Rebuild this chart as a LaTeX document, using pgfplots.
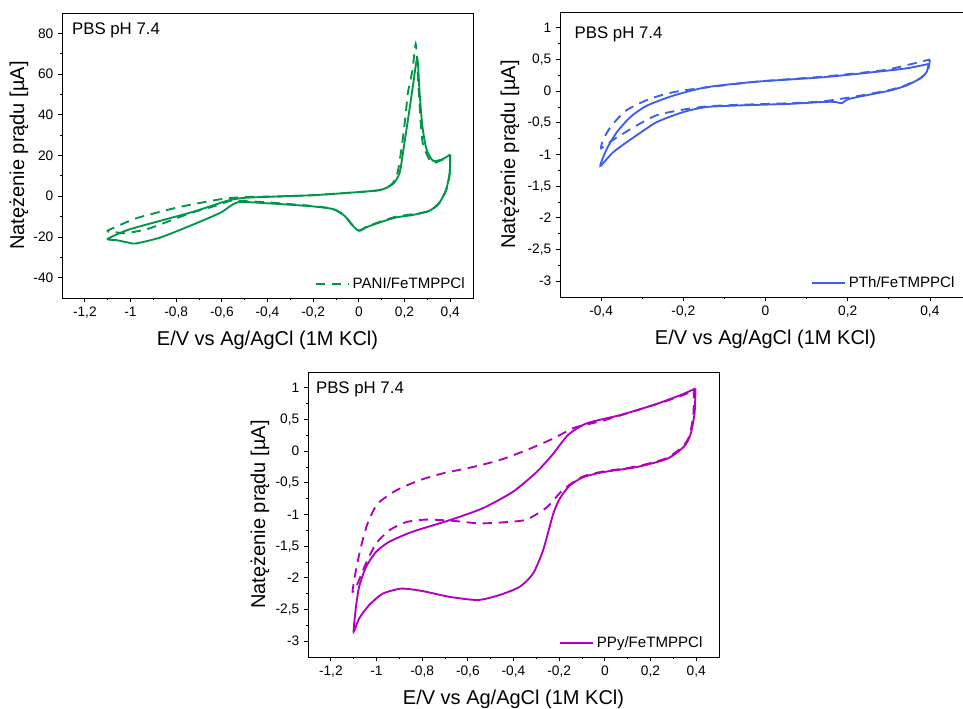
\documentclass[border=0pt]{standalone}
\usepackage{pgfplots}
\pgfplotsset{compat=1.18}
\usepackage{fontspec}
\setmainfont{Liberation Sans}

\definecolor{pani}{RGB}{0,150,72}
\definecolor{pth}{RGB}{62,96,228}
\definecolor{ppy}{RGB}{178,0,190}

\tikzset{pbs/.style={anchor=base west, inner sep=0pt, font=\fontsize{12.6}{13}\selectfont}}

\pgfplotsset{
  cv/.style={
    scale only axis, width=308.25pt, height=213.75pt,
    anchor=south west,
    tick pos=left, tick align=outside,
    major tick length=3pt, minor tick length=1.8pt,
    minor x tick num=1, minor y tick num=1,
    every tick/.style={black, line width=0.6pt},
    axis line style={line width=0.6pt},
    ticklabel style={font=\fontsize{10.3}{11}\selectfont},
    /pgf/number format/use comma,
    /pgf/number format/assume math mode=true,
    label style={font=\fontsize{15}{16}\selectfont},
    xlabel={E/V vs Ag/AgCl (1M KCl)},
    ylabel={Natężenie prądu [µA]},
    x label style={at={(axis description cs:0.5,-0.15)}, anchor=center},
    legend style={draw=none, fill=none, font=\fontsize{11.3}{12}\selectfont,
      at={(rel axis cs:0.99,0.012)}, anchor=south east, inner sep=1pt},
    legend cell align=left,
    legend image code/.code={\draw[#1] (0pt,0pt) -- (25pt,0pt);},
  },
  sol/.style={line width=1.4pt, smooth, tension=0.4},
  dsh/.style={line width=1.4pt, smooth, tension=0.4, dash pattern=on 7pt off 5pt},
}

\begin{document}
\begin{tikzpicture}

% PANI
\begin{axis}[cv, at={(46.5pt,307.5pt)},
  xmin=-1.3, xmax=0.5, ymin=-50, ymax=90,
  xtick={-1.2,-1,-0.8,-0.6,-0.4,-0.2,0,0.2,0.4},
  ytick={-40,-20,0,20,40,60,80},
  y label style={at={(axis description cs:-0.105,0.5)}, anchor=center}]
\addplot[sol, pani, forget plot] coordinates {
(0.4,20.5) (0.398,11.7) (0.383,3.5) (0.354,-3.0) (0.31,-7.1) (0.237,-9.2)
(0.164,-10.4) (0.091,-12.9) (0.032,-15.3) (0.0,-17.0) (-0.033,-13.7)
(-0.063,-9.6) (-0.114,-6.3) (-0.202,-5.0) (-0.3,-4.2) (-0.4,-3.5)
(-0.531,-3.0) (-0.604,-8.0) (-0.721,-13.7) (-0.867,-20.2) (-0.976,-23.2)
(-1.013,-22.7) (-1.06,-21.6) (-1.1,-21.0) (-1.013,-16.6) (-0.867,-12.0)
(-0.721,-7.5) (-0.575,-2.2) (-0.5,-0.8) (-0.35,-0.1) (-0.2,0.5)
(-0.055,1.6) (0.091,3.0) (0.149,6.0) (0.179,11.7) (0.2,26.4) (0.222,42.8)
(0.237,54.3) (0.256,67.8) (0.266,51) (0.278,34.6) (0.296,23.2)
(0.325,17.4) (0.368,18.3) (0.4,20.5)
};
\addplot[dsh, pani] coordinates {
(0.4,20.0) (0.398,11.0) (0.383,3.0) (0.354,-3.2) (0.31,-7.3) (0.237,-8.8)
(0.164,-10.0) (0.091,-12.6) (0.032,-15.1) (0.0,-16.8) (-0.033,-13.5)
(-0.063,-9.4) (-0.114,-6.2) (-0.202,-4.8) (-0.3,-3.9) (-0.4,-3.0)
(-0.5,-2.4) (-0.56,-2.2) (-0.63,-4.8) (-0.732,-8.1) (-0.826,-12.0)
(-0.925,-16.1) (-1.02,-18.2) (-1.057,-17.8) (-1.1,-17.0) (-0.984,-11.2)
(-0.896,-8.4) (-0.794,-5.5) (-0.691,-3.2) (-0.589,-1.2) (-0.5,-0.4)
(-0.35,-0.1) (-0.2,0.5) (-0.055,1.6) (0.091,3.0) (0.145,6.0) (0.17,11.7)
(0.19,26) (0.205,40) (0.215,51) (0.235,62) (0.249,74.8) (0.257,62)
(0.266,45) (0.28,26) (0.318,16.6) (0.36,17.6) (0.4,20.0)
};
\addlegendentry{PANI/FeTMPPCl}
\node[pbs] at (axis description cs:0.024,0.926) {PBS pH 7.4};
\end{axis}

% PTh
\begin{axis}[cv, at={(420pt,308.25pt)},
  xmin=-0.5, xmax=0.5, ymin=-3.25, ymax=1.25,
  xtick={-0.4,-0.2,0,0.2,0.4},
  ytick={-3,-2.5,-2,-1.5,-1,-0.5,0,0.5,1},
  y label style={at={(axis description cs:-0.122,0.5)}, anchor=center},
  legend style={at={(rel axis cs:0.97,0.012)}}]
\addplot[sol, pth] coordinates {
(0.397,0.43) (0.392,0.30) (0.376,0.20) (0.343,0.09) (0.303,0.01)
(0.222,-0.095) (0.2,-0.13) (0.185,-0.19) (0.17,-0.17) (0.141,-0.17)
(0.06,-0.20) (-0.062,-0.225) (-0.143,-0.25) (-0.2,-0.33) (-0.265,-0.49)
(-0.321,-0.73) (-0.37,-0.96) (-0.402,-1.18) (-0.386,-0.91) (-0.362,-0.65)
(-0.329,-0.41) (-0.289,-0.23) (-0.224,-0.07) (-0.143,0.063) (-0.021,0.15)
(0.141,0.22) (0.262,0.30) (0.343,0.36) (0.397,0.43)
};
\addlegendentry{PTh/FeTMPPCl}
\addplot[dsh, pth, forget plot] coordinates {
(0.4,0.50) (0.395,0.32) (0.378,0.21) (0.343,0.10) (0.303,0.02)
(0.222,-0.08) (0.141,-0.16) (0.06,-0.19) (-0.062,-0.215) (-0.143,-0.24)
(-0.208,-0.30) (-0.265,-0.38) (-0.313,-0.54) (-0.354,-0.70) (-0.378,-0.80)
(-0.4,-0.90) (-0.394,-0.75) (-0.374,-0.54) (-0.338,-0.30) (-0.281,-0.12)
(-0.224,-0.016) (-0.167,0.04) (-0.021,0.15) (0.141,0.23) (0.286,0.33)
(0.343,0.41) (0.4,0.50)
};
\node[pbs] at (axis description cs:0.035,0.908) {PBS pH 7.4};
\end{axis}

% PPy
\begin{axis}[cv, at={(231pt,38.25pt)},
  xmin=-1.3, xmax=0.5, ymin=-3.25, ymax=1.25,
  xtick={-1.2,-1,-0.8,-0.6,-0.4,-0.2,0,0.2,0.4},
  ytick={-3,-2.5,-2,-1.5,-1,-0.5,0,0.5,1},
  y label style={at={(axis description cs:-0.117,0.5)}, anchor=center},
  legend style={at={(rel axis cs:0.97,0.012)}}]
\addplot[sol, ppy] coordinates {
(0.397,0.99) (0.393,0.60) (0.375,0.26) (0.346,0.07) (0.273,-0.12)
(0.141,-0.25) (-0.006,-0.33) (-0.094,-0.41) (-0.153,-0.54) (-0.196,-0.74)
(-0.226,-0.99) (-0.27,-1.56) (-0.314,-1.93) (-0.372,-2.14) (-0.46,-2.27)
(-0.556,-2.35) (-0.68,-2.30) (-0.797,-2.21) (-0.89,-2.17) (-0.973,-2.25)
(-1.032,-2.43) (-1.076,-2.64) (-1.1,-2.85) (-1.09,-2.46) (-1.076,-2.14)
(-1.046,-1.83) (-1.002,-1.59) (-0.944,-1.43) (-0.841,-1.27) (-0.68,-1.09)
(-0.534,-0.90) (-0.402,-0.64) (-0.299,-0.33) (-0.226,-0.04) (-0.16,0.26)
(-0.079,0.44) (0.067,0.57) (0.214,0.73) (0.331,0.885) (0.397,0.99)
};
\addlegendentry{PPy/FeTMPPCl}
\addplot[dsh, ppy, forget plot] coordinates {
(0.39,0.98) (0.388,0.60) (0.372,0.26) (0.343,0.08) (0.27,-0.11)
(0.141,-0.24) (-0.006,-0.32) (-0.08,-0.38) (-0.123,-0.45) (-0.189,-0.63)
(-0.255,-0.89) (-0.343,-1.08) (-0.431,-1.12) (-0.548,-1.14) (-0.665,-1.10)
(-0.78,-1.08) (-0.87,-1.12) (-0.944,-1.25) (-1.002,-1.46) (-1.046,-1.77)
(-1.083,-2.09) (-1.105,-2.22) (-1.09,-1.88) (-1.068,-1.51) (-1.039,-1.14)
(-0.995,-0.83) (-0.914,-0.62) (-0.812,-0.46) (-0.709,-0.35) (-0.578,-0.25)
(-0.46,-0.14) (-0.343,0.016) (-0.226,0.20) (-0.13,0.375) (0.0,0.49)
(0.258,0.78) (0.353,0.90) (0.39,0.98)
};
\node[pbs] at (axis description cs:0.019,0.923) {PBS pH 7.4};
\end{axis}

\pgfresetboundingbox
\useasboundingbox (0,0) rectangle (722.25pt,531pt);
\end{tikzpicture}
\end{document}
